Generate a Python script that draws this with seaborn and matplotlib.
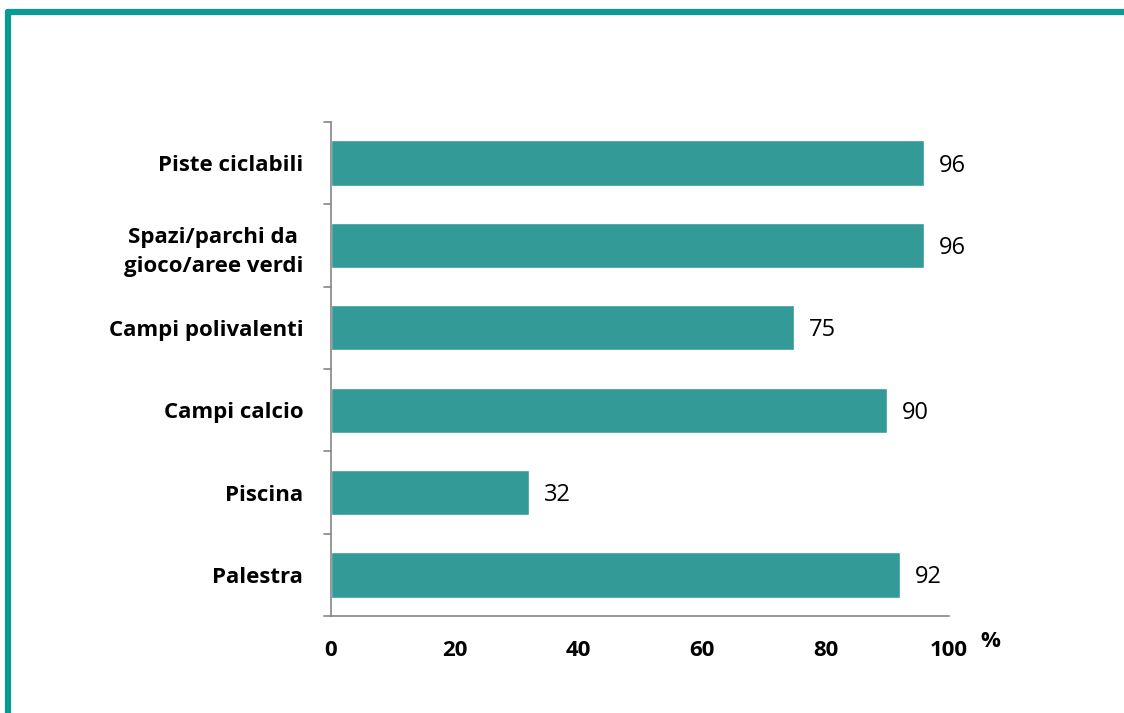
import matplotlib
matplotlib.use('Agg')
import matplotlib.pyplot as plt
import pandas as pd
import seaborn as sns
from matplotlib.lines import Line2D

categories = ['Piste ciclabili', 'Spazi/parchi da \ngioco/aree verdi', 'Campi polivalenti',
              'Campi calcio', 'Piscina', 'Palestra']
values = [96, 96, 75, 90, 32, 92]
xticks = [0, 20, 40, 60, 80, 100]

bar_color = '#339a98'
frame_color = '#0a9a94'
axis_color = '#868686'

sns.set_style('white')
plt.rcParams['font.family'] = ['Open Sans', 'DejaVu Sans']
plt.rcParams['text.color'] = 'black'

df = pd.DataFrame({'cat': categories, 'val': values})

fig = plt.figure(figsize=(11.24, 7.13), dpi=100)
ax = fig.add_axes([0.2945, 0.136, 0.5498, 0.693])
sns.barplot(data=df, x='val', y='cat', color=bar_color, saturation=1, width=0.55, ax=ax)

ax.set_xlim(0, 100)
ax.set_ylim(len(categories) - 0.5, -0.5)
ax.set_xticks(xticks)
ax.set_xticklabels([str(t) for t in xticks], fontsize=16, fontweight='bold', color='black')
ax.set_yticks(range(len(categories)))
ax.set_yticklabels(categories, fontsize=16, fontweight='bold', linespacing=1.5, color='black')
ax.tick_params(axis='y', length=0, pad=20)
ax.tick_params(axis='x', length=6, color=axis_color, direction='out', pad=11)
# category-boundary ticks on y axis
for b in [i - 0.5 for i in range(len(categories) + 1)]:
    ax.plot([-0.012, 0], [b, b], transform=ax.get_yaxis_transform(), color=axis_color,
            lw=1.2, clip_on=False)
ax.set_xlabel('')
ax.set_ylabel('')
for s in ['top', 'right']:
    ax.spines[s].set_visible(False)
for s in ['left', 'bottom']:
    ax.spines[s].set_color(axis_color)
    ax.spines[s].set_linewidth(1.2)

for i, v in enumerate(values):
    ax.text(v + 2.4, i + 0.03, str(v), va='center', ha='left', fontsize=17, color='black')

fig.text(0.881, 0.1, '%', fontsize=16, fontweight='bold', ha='center', va='center')

# teal frame (top and left edges)
fig.add_artist(Line2D([0.0075, 1.0], [0.983, 0.983], transform=fig.transFigure,
                      color=frame_color, lw=4.5))
fig.add_artist(Line2D([0.0075, 0.0075], [0.0, 0.983], transform=fig.transFigure,
                      color=frame_color, lw=4.5))

fig.savefig('out.png', dpi=100)
